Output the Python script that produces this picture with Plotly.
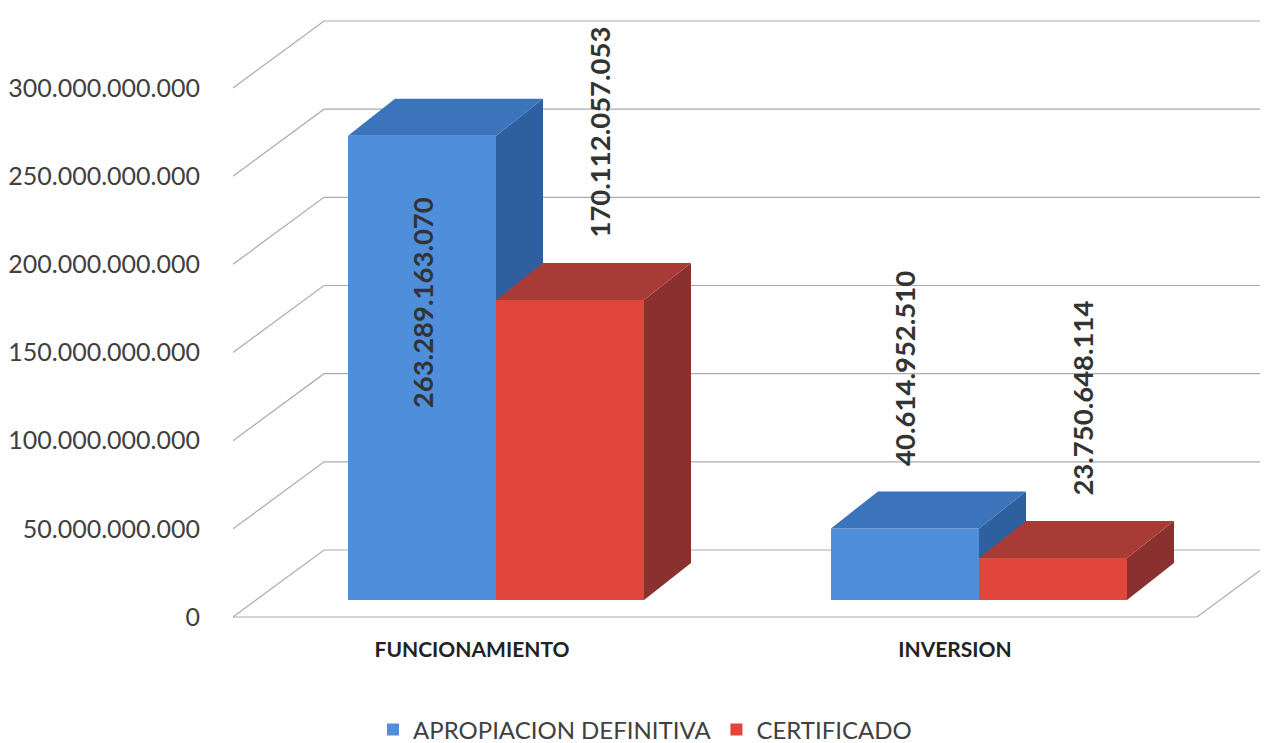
import plotly.graph_objects as go

# ---------------- data ----------------
categories = ["FUNCIONAMIENTO", "INVERSION"]
apropiacion_definitiva = [263289163070, 40614952510]
certificado = [170112057053, 23750648114]
series_names = ["APROPIACION DEFINITIVA", "CERTIFICADO"]
y_tick_values = [0, 50e9, 100e9, 150e9, 200e9, 250e9, 300e9]

# ---------------- style / geometry ----------------
PAGE_OFF = 8                    # browser body margin around the figure
FIG_W, FIG_H = 1268 - PAGE_OFF, 743 - PAGE_OFF
P = lambda ref_px: ref_px - PAGE_OFF   # reference pixel -> figure pixel

PLOT_LEFT, PLOT_RIGHT, PLOT_TOP, PLOT_BOTTOM = P(233), FIG_W, P(10), P(620)
M_L, M_R, M_T, M_B = PLOT_LEFT, FIG_W - PLOT_RIGHT, PLOT_TOP, FIG_H - PLOT_BOTTOM
PW = PLOT_RIGHT - PLOT_LEFT
PH = PLOT_BOTTOM - PLOT_TOP
PX_PER_Y = 529 / 300e9          # pixels per value unit
PX_PER_X = 483                  # pixels per category step
BAR_ZERO_PX = P(600)            # pixel row of the bars' front-face base
CAT0_PX = P(496)                # pixel column of first category (bar front faces)
FRONT_SHIFT = (-24, 17)         # front plane of the floor relative to bar fronts (px)
WALL_DEPTH = (91, -67)          # floor/wall depth (px)
BAR_DEPTH = (47, -37)           # 3D bar depth (px)
BAR_W_PX = 148
FLOOR_RIGHT_PX = P(1197)
LEGEND_Y_PX = P(730)
LEGEND_X_PX = P(645)

front_colors = ["#4f8edb", "#e1463d"]
top_colors = ["#3b74bb", "#a93b36"]
side_colors = ["#2e60a0", "#8a302e"]
label_shift_px = [0, 30]
label_inside = [[True, False], [False, False]]   # [series][category]

FONT = "Lato"
GRID_COLOR = "#a9aab8"

ux = lambda px: px / PX_PER_X
uy = lambda px: px / PX_PER_Y

x_lo = -(CAT0_PX - PLOT_LEFT) / PX_PER_X
x_hi = x_lo + PW / PX_PER_X
y_lo = -(PLOT_BOTTOM - BAR_ZERO_PX) / PX_PER_Y
y_hi = y_lo + PH / PX_PER_Y

# front-plane axes (labels)
x2_range = [x_lo - ux(FRONT_SHIFT[0]), x_hi - ux(FRONT_SHIFT[0])]
y2_range = [y_lo + uy(FRONT_SHIFT[1]), y_hi + uy(FRONT_SHIFT[1])]

bar_w = ux(BAR_W_PX)
offsets = [-bar_w, 0.0]
xpos = list(range(len(categories)))
series = [apropiacion_definitiva, certificado]

fig = go.Figure()

# ---------------- back wall gridlines & floor (shapes below) ----------------
shapes = []
for v in y_tick_values:
    fy = v - uy(FRONT_SHIFT[1])
    bx = x_lo + ux(WALL_DEPTH[0])
    by = fy + uy(-WALL_DEPTH[1])
    shapes.append(dict(type="path", xref="x", yref="y", layer="below",
                       path=f"M {x_lo},{fy} L {bx},{by} L {x_hi + 1},{by}",
                       line=dict(color=GRID_COLOR, width=1.2)))
fy0 = -uy(FRONT_SHIFT[1])
fxr = x_lo + ux(FLOOR_RIGHT_PX - PLOT_LEFT)
shapes.append(dict(type="path", xref="x", yref="y", layer="below",
                   path=(f"M {x_lo},{fy0} L {fxr},{fy0} "
                         f"L {fxr + ux(WALL_DEPTH[0])},{fy0 + uy(-WALL_DEPTH[1])}"),
                   line=dict(color=GRID_COLOR, width=1.2)))

# ---------------- bars (front faces) ----------------
for s, (name, vals) in enumerate(zip(series_names, series)):
    fig.add_trace(go.Bar(
        x=xpos, y=vals, name=name, width=bar_w, offset=offsets[s],
        marker=dict(color=front_colors[s], line=dict(width=0)),
        xaxis="x", yaxis="y",
    ))

# ---------------- 3D faces ----------------
dxu = ux(BAR_DEPTH[0])
dyu = uy(-BAR_DEPTH[1])
for s, vals in enumerate(series):
    for c, v in enumerate(vals):
        x0 = xpos[c] + offsets[s]
        x1 = x0 + bar_w
        bottom = 0.0
        if s + 1 < len(series):
            bottom = series[s + 1][c]
        if bottom < v:
            sx = [x1, x1, x1 + dxu, x1 + dxu, x1]
            sy = [bottom, v, v + dyu, max(bottom, dyu), bottom]
            fig.add_trace(go.Scatter(x=sx, y=sy, fill="toself", mode="lines",
                                     line=dict(width=0), fillcolor=side_colors[s],
                                     showlegend=False, hoverinfo="skip"))
        tx = [x0, x1, x1 + dxu, x0 + dxu, x0]
        ty = [v, v, v + dyu, v + dyu, v]
        fig.add_trace(go.Scatter(x=tx, y=ty, fill="toself", mode="lines",
                                 line=dict(width=0), fillcolor=top_colors[s],
                                 showlegend=False, hoverinfo="skip"))

# invisible trace so that the front-plane label axes are drawn
fig.add_trace(go.Scatter(x=[None], y=[None], xaxis="x2", yaxis="y2",
                         mode="markers", showlegend=False, hoverinfo="skip"))

# ---------------- data labels ----------------
annotations = []
for s, vals in enumerate(series):
    for c, v in enumerate(vals):
        txt = f"{int(v):,}".replace(",", ".")
        xc = xpos[c] + offsets[s] + bar_w / 2 + ux(label_shift_px[s])
        inside = label_inside[s][c]
        annotations.append(dict(
            x=xc, y=v, xref="x", yref="y", text=f"<b>{txt}</b>",
            textangle=-90, showarrow=False,
            yanchor="top" if inside else "bottom",
            yshift=-60 if inside else 60,
            font=dict(family=FONT, size=27.5, color="#333333"),
        ))

fig.update_layout(
    width=FIG_W, height=FIG_H,
    margin=dict(l=M_L, r=M_R, t=M_T, b=M_B, pad=0, autoexpand=False),
    paper_bgcolor="white", plot_bgcolor="white",
    separators=",.",
    barmode="overlay",
    showlegend=True,
    legend=dict(orientation="h",
                x=(LEGEND_X_PX - PLOT_LEFT) / PW, xanchor="center",
                y=(PLOT_BOTTOM - LEGEND_Y_PX) / PH, yanchor="middle",
                font=dict(family=FONT, size=24, color="#404040"),
                bgcolor="rgba(0,0,0,0)", itemwidth=30),
    xaxis=dict(range=[x_lo, x_hi], showticklabels=False, showgrid=False,
               zeroline=False, showline=False, fixedrange=True),
    yaxis=dict(range=[y_lo, y_hi], showticklabels=False, showgrid=False,
               zeroline=False, showline=False, fixedrange=True),
    xaxis2=dict(range=x2_range, overlaying="x", side="bottom", anchor="y2",
                tickmode="array", tickvals=xpos, ticktext=[f"<b>{c}</b>" for c in categories],
                showgrid=False, zeroline=False, showline=False, ticks="",
                ticklabelstandoff=15, fixedrange=True,
                tickfont=dict(family=FONT, size=21, color="#222222")),
    yaxis2=dict(range=y2_range, overlaying="y", side="left", anchor="x2",
                tickmode="array", tickvals=y_tick_values, tickformat=",.0f",
                showgrid=False, zeroline=False, showline=False, ticks="",
                ticklabelstandoff=32, fixedrange=True,
                tickfont=dict(family=FONT, size=25, color="#404040")),
    annotations=annotations,
    shapes=shapes,
    font=dict(family=FONT),
)

fig.write_html("out.html")
